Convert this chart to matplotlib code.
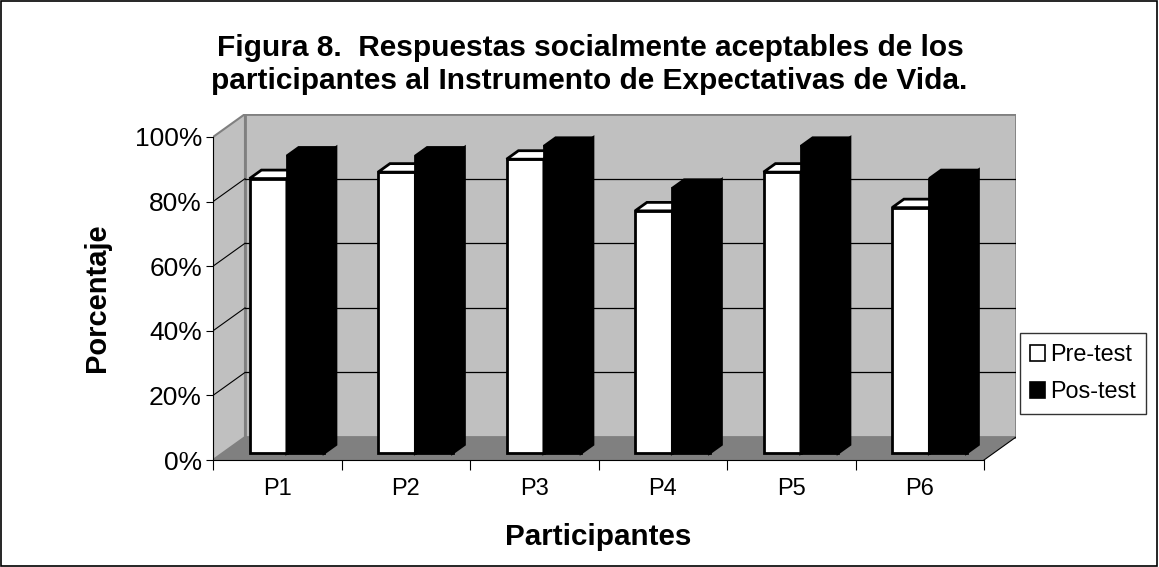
import matplotlib.pyplot as plt
from matplotlib.patches import Polygon, Patch, Rectangle

plt.rcParams['font.family'] = ['Liberation Sans', 'DejaVu Sans']

categories = ['P1', 'P2', 'P3', 'P4', 'P5', 'P6']
pre_test = [85, 87, 91, 75, 87, 76]
pos_test = [92, 92, 95, 82, 95, 85]
series_names = ['Pre-test', 'Pos-test']
yticks = [0, 20, 40, 60, 80, 100]
ytick_labels = ['0%', '20%', '40%', '60%', '80%', '100%']

W, H = 1159, 567
fig = plt.figure(figsize=(W / 100, H / 100), dpi=100)

# oblique "3d" depth in data units
n = len(categories)
DX = 0.249   # category units
DY = 7.1     # percent units
x0, x1 = 213, 984   # front axis pixels
y0, y1 = 460, 137   # 0% / 100% pixels
px_x = (x1 - x0) / n
px_y = (y0 - y1) / 100
right = x1 + DX * px_x
top = y1 - DY * px_y
ax = fig.add_axes([x0 / W, 1 - y0 / H, (right - x0) / W, (y0 - top) / H])
ax.set_xlim(0, n + DX)
ax.set_ylim(0, 100 + DY)
ax.patch.set_visible(False)

wall = '#c0c0c0'
edge = '#808080'

# side wall, back wall, floor
ax.add_patch(Polygon([(0, 0), (DX, DY), (DX, 100 + DY), (0, 100)],
                     facecolor=wall, edgecolor=edge, lw=1.5, zorder=1))
ax.add_patch(Polygon([(DX, DY), (n + DX, DY), (n + DX, 100 + DY), (DX, 100 + DY)],
                     facecolor=wall, edgecolor=edge, lw=2, zorder=1))
ax.add_patch(Polygon([(0, 0), (n, 0), (n + DX, DY), (DX, DY)],
                     facecolor=edge, edgecolor='none', zorder=2))
ax.plot([n, n + DX], [0, DY], color='black', lw=0.8, zorder=2)

# gridlines
for v in yticks[1:-1]:
    ax.plot([DX, n + DX], [v + DY, v + DY], color='black', lw=0.9, zorder=1.5)
    ax.plot([0, DX], [v, v + DY], color='black', lw=0.8, zorder=1.5)

# bars
front = 0.3
depth = 0.37
bw = 0.29
fx, fy = front * DX, front * DY
bx, by = depth * DX, depth * DY
z = 3
for i in range(n):
    c = i + 0.5 + fx
    for left, val, fc, ec in [(c - bw, pre_test[i], 'white', 'black'),
                              (c, pos_test[i], 'black', 'black')]:
        r = left + bw
        t = val + fy
        b = fy
        faces = [
            [(left, b), (r, b), (r, t), (left, t)],
            [(left, t), (r, t), (r + bx, t + by), (left + bx, t + by)],
            [(r, b), (r + bx, b + by), (r + bx, t + by), (r, t)],
        ]
        for f in faces:
            ax.add_patch(Polygon(f, facecolor=fc, edgecolor=ec, lw=2,
                                 joinstyle='miter', zorder=z))
            z += 0.01

# axes
for s in ['top', 'right']:
    ax.spines[s].set_visible(False)
ax.spines['left'].set_bounds(0, 100)
ax.spines['bottom'].set_bounds(0, n)
ax.spines['left'].set_zorder(10)
ax.spines['bottom'].set_zorder(10)
ax.set_yticks(yticks)
ax.set_yticklabels(ytick_labels, fontsize=19)
ax.tick_params(axis='y', length=5, width=0.8, pad=3)
ax.set_xticks(range(n + 1))
ax.set_xticklabels([])
ax.set_xticks([i + 0.5 for i in range(n)], minor=True)
ax.set_xticklabels(categories, minor=True, fontsize=17)
ax.tick_params(axis='x', which='major', length=7, width=0.8)
ax.tick_params(axis='x', which='minor', length=0, pad=13)

fig.text(590 / W, 1 - 48 / H, 'Figura 8.  Respuestas socialmente aceptables de los',
         ha='center', va='center', fontsize=21.5, fontweight='bold')
fig.text(589 / W, 1 - 81 / H, 'participantes al Instrumento de Expectativas de Vida.',
         ha='center', va='center', fontsize=21.5, fontweight='bold')
fig.text(97 / W, 1 - 298 / H, 'Porcentaje', rotation=90, ha='center', va='center',
         fontsize=21, fontweight='bold')
fig.text(598 / W, 1 - 537 / H, 'Participantes', ha='center', va='center',
         fontsize=21.3, fontweight='bold')

handles = [Patch(facecolor='white', edgecolor='black', lw=1.2, label=series_names[0]),
           Patch(facecolor='black', edgecolor='black', lw=1.2, label=series_names[1])]
leg = fig.legend(handles=handles, loc='center', bbox_to_anchor=(1083 / W, 1 - 373 / H),
                 fontsize=16.8, frameon=True, fancybox=False, handlelength=0.65,
                 handleheight=0.65, handletextpad=0.2, borderpad=0.45, labelspacing=0.6,
                 borderaxespad=0)
leg.get_frame().set_edgecolor('black')
leg.get_frame().set_linewidth(1)

fig.patches.append(Rectangle((0.0005, 0.001), 0.998, 0.998, transform=fig.transFigure,
                             fill=False, edgecolor='black', lw=1.2))

fig.savefig('out.png', dpi=100)
